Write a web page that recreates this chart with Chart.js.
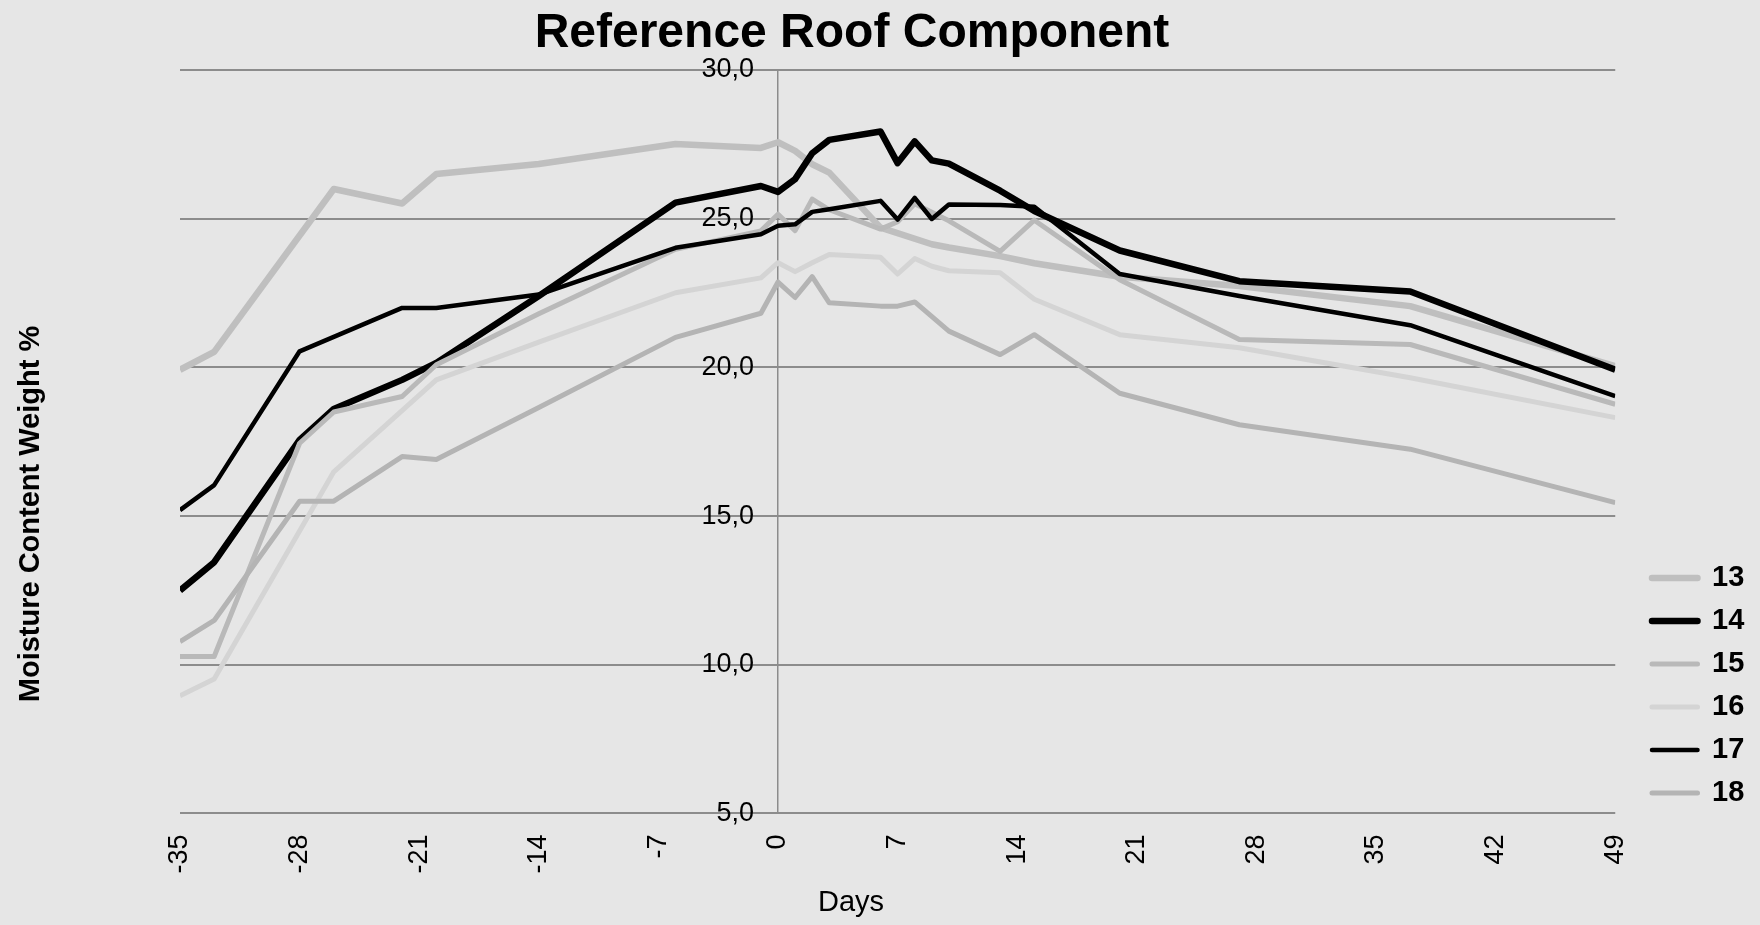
<!DOCTYPE html>
<html>
<head>
<meta charset="utf-8">
<script src="https://cdn.jsdelivr.net/npm/chart.js@4.4.1/dist/chart.umd.min.js"></script>
<style>
  html, body { margin: 0; padding: 0; background: #e6e6e6; }
  #wrap { width: 1760px; height: 925px; position: relative; }
</style>
</head>
<body>
<div id="wrap"><canvas id="c"></canvas></div>
<script>
// ---- data ----
const chartTitle = 'Reference Roof Component';
const xTitle = 'Days';
const yTitle = 'Moisture Content Weight %';
const seriesNames = ['13', '14', '15', '16', '17', '18'];
const days = [-35, -33, -28, -26, -22, -20, -14, -6, -1, 0, 1, 2, 3, 6, 7, 8, 9, 10, 13, 15, 20, 27, 37, 49];
const s13 = [19.92, 20.52, null, 26.0, 25.51, 26.5, 26.84, 27.51, 27.38, 27.57, 27.28, 26.83, 26.55, 24.7, null, null, 24.14, 24.03, 23.74, 23.5, 23.05, 22.74, 22.06, 20.04];
const s14 = [12.5, 13.45, 17.56, 18.6, 19.58, 20.15, 22.4, 25.54, 26.1, 25.9, 26.33, 27.2, 27.65, 27.93, 26.87, 27.6, 26.96, 26.85, 25.94, 25.26, 23.93, 22.9, 22.55, 19.92];
const s15 = [10.28, 10.28, 17.45, 18.5, 19.02, 20.09, 21.8, 23.97, 24.59, 25.15, 24.6, 25.66, 25.3, 24.65, 24.9, 25.5, null, 24.93, 23.9, 24.95, 22.95, 20.94, 20.77, 18.76];
const s16 = [8.96, 9.52, null, 16.49, null, 19.58, 20.85, 22.51, 23.01, 23.52, 23.22, 23.52, 23.8, 23.7, 23.14, 23.66, 23.4, 23.25, 23.18, 22.29, 21.1, 20.66, 19.65, 18.31];
const s17 = [15.2, 16.04, 20.54, null, 22.0, 22.0, 22.45, 24.02, 24.48, 24.76, 24.81, 25.23, 25.32, 25.6, 24.97, 25.7, 24.99, 25.48, 25.46, 25.4, 23.14, 22.4, 21.42, 19.03];
const s18 = [10.78, 11.49, 15.5, 15.5, 17.0, 16.9, 18.65, 21.01, 21.82, 22.87, 22.35, 23.05, 22.17, 22.06, 22.06, 22.2, null, 21.22, 20.43, 21.1, 19.13, 18.07, 17.25, 15.45];
const xTickValues = [-35, -28, -21, -14, -7, 0, 7, 14, 21, 28, 35, 42, 49];
const yTickValues = [5, 10, 15, 20, 25, 30];
const yTickLabels = ['5,0', '10,0', '15,0', '20,0', '25,0', '30,0'];

// ---- styles ----
const seriesValues = [s13, s14, s15, s16, s17, s18];
const colors = ['#bfbfbf', '#000000', '#b9b9b9', '#d4d4d4', '#000000', '#b4b4b4'];
const widths = [6.5, 6.5, 5, 5, 4.5, 5];
const FONT = '"Liberation Sans", Arial, Helvetica, sans-serif';

function toPoints(vals) {
  const pts = [];
  days.forEach((d, i) => { if (vals[i] !== null) pts.push({ x: d, y: vals[i] }); });
  return pts;
}

const datasets = seriesNames.map((name, i) => ({
  label: name,
  data: toPoints(seriesValues[i]),
  borderColor: colors[i],
  backgroundColor: colors[i],
  borderWidth: widths[i],
  order: seriesNames.length - i,
  pointRadius: 0,
  tension: 0,
  borderJoinStyle: 'round',
  fill: false
}));

const textPlugin = {
  id: 'textPlugin',
  afterLayout(chart) {
    const lg = chart.legend;
    if (!lg) return;
    const dx = 1652 - (lg.left + lg.options.labels.padding);
    lg.left += dx; lg.right += dx;
    lg.top += 8; lg.bottom += 8;
  },
  beforeDatasetsDraw(chart) {
    const ctx = chart.ctx;
    const xs = chart.scales.x, ys = chart.scales.y;
    const axisX = xs.getPixelForValue(0);
    ctx.save();
    ctx.fillStyle = '#000';
    ctx.textAlign = 'right';
    ctx.textBaseline = 'middle';
    ctx.font = '27px ' + FONT;
    yTickValues.forEach((v, i) => ctx.fillText(yTickLabels[i], axisX - 24, ys.getPixelForValue(v)));
    ctx.restore();
  },
  afterDraw(chart) {
    const ctx = chart.ctx;
    ctx.save();
    ctx.fillStyle = '#000';
    ctx.textAlign = 'center';
    ctx.textBaseline = 'alphabetic';
    ctx.font = 'bold 48px ' + FONT;
    ctx.fillText(chartTitle, 852, 47);
    ctx.font = '29px ' + FONT;
    ctx.fillText(xTitle, 851, 911);
    ctx.translate(39, 514);
    ctx.rotate(-Math.PI / 2);
    ctx.font = 'bold 29px ' + FONT;
    ctx.fillText(yTitle, 0, 0);
    ctx.restore();
  }
};

const defaultGen = Chart.defaults.plugins.legend.labels.generateLabels;

new Chart(document.getElementById('c'), {
  type: 'line',
  data: { datasets },
  plugins: [textPlugin],
  options: {
    responsive: true,
    maintainAspectRatio: false,
    animation: false,
    layout: { padding: { left: 180, right: 28.5, top: 70, bottom: 30.5 } },
    plugins: {
      title: { display: false },
      tooltip: { enabled: false },
      legend: {
        position: 'right',
        align: 'end',
        fullSize: false,
        labels: {
          usePointStyle: true,
          pointStyle: 'line',
          pointStyleWidth: 45.5,
          padding: 14,
          color: '#000',
          font: { family: FONT, size: 29, weight: 'bold' },
          sort: (a, b) => a.datasetIndex - b.datasetIndex,
          generateLabels: (chart) => defaultGen(chart).map(l => Object.assign(l, { lineCap: 'round' }))
        }
      }
    },
    scales: {
      x: {
        type: 'linear',
        min: xTickValues[0],
        max: xTickValues[xTickValues.length - 1],
        afterBuildTicks: (scale) => { scale.ticks = xTickValues.map(v => ({ value: v })); },
        ticks: {
          minRotation: 90, maxRotation: 90, autoSkip: false, padding: 21,
          color: '#000', font: { family: FONT, size: 27 }
        },
        grid: { display: false, drawTicks: false },
        border: { display: false }
      },
      y: {
        type: 'linear',
        position: { x: 0 },
        min: yTickValues[0],
        max: yTickValues[yTickValues.length - 1],
        afterBuildTicks: (scale) => { scale.ticks = yTickValues.map(v => ({ value: v })); },
        ticks: { display: false },
        grid: { color: '#8c8c8c', lineWidth: 2, drawTicks: false },
        border: { display: true, color: '#8c8c8c', width: 1.5 }
      }
    }
  }
});
</script>
</body>
</html>
